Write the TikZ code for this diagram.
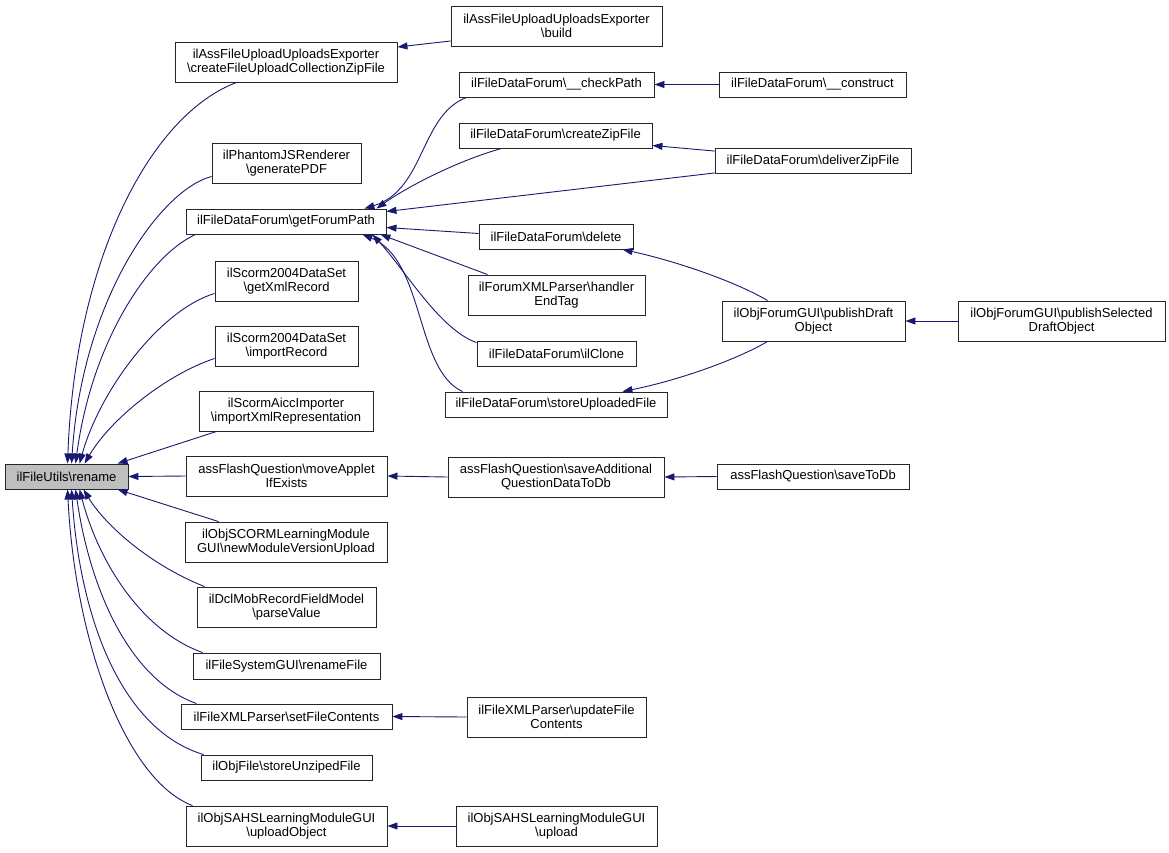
\documentclass[tikz,border=0pt]{standalone}
\usepackage{fontspec}
\setmainfont{Liberation Sans}
\usetikzlibrary{arrows.meta,calc}
\definecolor{navyc}{HTML}{191970}
\definecolor{curfill}{HTML}{BFBFBF}
\begin{document}
\begin{tikzpicture}[x=1pt,y=-1pt,
  fn/.style={draw=black!85, line width=0.9pt, fill=white, inner sep=0pt, align=center,
     font=\fontsize{13}{14.6}\selectfont},
  cur/.style={fn, fill=curfill},
  call/.style={draw=navyc, line width=0.9pt, -{Triangle[length=10pt,width=7pt]}}]
\useasboundingbox (0,0) rectangle (1169,852);
\fill[white] (0,0) rectangle (1169,852);
% nodes
\node[cur, minimum width=123pt, minimum height=25pt] (rename) at (66.5,476.5) {ilFileUtils\textbackslash rename};
\node[fn, minimum width=222pt, minimum height=40pt] (cfu) at (286,62) {ilAssFileUploadUploadsExporter\\\textbackslash createFileUploadCollectionZipFile};
\node[fn, minimum width=211pt, minimum height=40pt] (build) at (556.5,26) {ilAssFileUploadUploadsExporter\\\textbackslash build};
\node[fn, minimum width=149pt, minimum height=40pt] (phantom) at (286.5,163) {ilPhantomJSRenderer\\\textbackslash generatePDF};
\node[fn, minimum width=200pt, minimum height=25pt] (gfp) at (286,221.5) {ilFileDataForum\textbackslash getForumPath};
\node[fn, minimum width=143pt, minimum height=40pt] (xml) at (286.5,281) {ilScorm2004DataSet\\\textbackslash getXmlRecord};
\node[fn, minimum width=143pt, minimum height=40pt] (imp) at (286.5,346) {ilScorm2004DataSet\\\textbackslash importRecord};
\node[fn, minimum width=174pt, minimum height=40pt] (aicc) at (286,411) {ilScormAiccImporter\\\textbackslash importXmlRepresentation};
\node[fn, minimum width=201pt, minimum height=40pt] (move) at (286.5,476) {assFlashQuestion\textbackslash moveApplet\\IfExists};
\node[fn, minimum width=202pt, minimum height=40pt] (newmod) at (286,542) {ilObjSCORMLearningModule\\GUI\textbackslash newModuleVersionUpload};
\node[fn, minimum width=179pt, minimum height=40pt] (parse) at (286.5,607) {ilDclMobRecordFieldModel\\\textbackslash parseValue};
\node[fn, minimum width=187pt, minimum height=26pt] (renf) at (286.5,666) {ilFileSystemGUI\textbackslash renameFile};
\node[fn, minimum width=211pt, minimum height=25pt] (setf) at (286.5,716.5) {ilFileXMLParser\textbackslash setFileContents};
\node[fn, minimum width=171pt, minimum height=25pt] (unz) at (286.5,767.5) {ilObjFile\textbackslash storeUnzipedFile};
\node[fn, minimum width=201pt, minimum height=40pt] (upobj) at (286.5,826) {ilObjSAHSLearningModuleGUI\\\textbackslash uploadObject};
\node[fn, minimum width=195pt, minimum height=25pt] (checkp) at (556.5,84.5) {ilFileDataForum\textbackslash \_\_checkPath};
\node[fn, minimum width=187pt, minimum height=25pt] (constr) at (812.5,84.5) {ilFileDataForum\textbackslash \_\_construct};
\node[fn, minimum width=193pt, minimum height=25pt] (czip) at (555.5,135.5) {ilFileDataForum\textbackslash createZipFile};
\node[fn, minimum width=196pt, minimum height=25pt] (deliver) at (813,161) {ilFileDataForum\textbackslash deliverZipFile};
\node[fn, minimum width=154pt, minimum height=25pt] (delete) at (556,236.5) {ilFileDataForum\textbackslash delete};
\node[fn, minimum width=177pt, minimum height=40pt] (handler) at (556.5,295) {ilForumXMLParser\textbackslash handler\\EndTag};
\node[fn, minimum width=159pt, minimum height=25pt] (clone) at (556.5,353.5) {ilFileDataForum\textbackslash ilClone};
\node[fn, minimum width=222pt, minimum height=25pt] (store) at (556,404.5) {ilFileDataForum\textbackslash storeUploadedFile};
\node[fn, minimum width=216pt, minimum height=40pt] (saveadd) at (556,477) {assFlashQuestion\textbackslash saveAdditional\\QuestionDataToDb};
\node[fn, minimum width=179pt, minimum height=40pt] (updf) at (556.5,717) {ilFileXMLParser\textbackslash updateFile\\Contents};
\node[fn, minimum width=201pt, minimum height=40pt] (upload) at (556.5,826) {ilObjSAHSLearningModuleGUI\\\textbackslash upload};
\node[fn, minimum width=183pt, minimum height=40pt] (pubdraft) at (813.5,321) {ilObjForumGUI\textbackslash publishDraft\\Object};
\node[fn, minimum width=207pt, minimum height=40pt] (pubsel) at (1061.5,321) {ilObjForumGUI\textbackslash publishSelected\\DraftObject};
\node[fn, minimum width=192pt, minimum height=25pt] (savedb) at (813,476.5) {assFlashQuestion\textbackslash saveToDb};
% edges into rename
\draw[call] ($(cfu.south west)+(62,0)$) .. controls (150,115) and (75,260) .. ($(rename.north west)+(63,0)$);
\draw[call] ($(phantom.south west)+(0,-7)$) .. controls (160,190) and (82,300) .. ($(rename.north west)+(67,0)$);
\draw[call] ($(gfp.south west)+(10,0)$) .. controls (150,255) and (92,340) .. ($(rename.north west)+(71,0)$);
\draw[call] ($(xml.south west)+(0,-8)$) .. controls (160,310) and (100,390) .. ($(rename.north west)+(75,0)$);
\draw[call] ($(imp.south west)+(0,-8)$) .. controls (165,375) and (110,420) .. ($(rename.north west)+(80,0)$);
\draw[call] ($(aicc.south west)+(18,0)$) -- ($(rename.north west)+(113,0)$);
\draw[call] (move.west) -- (rename.east);
\draw[call] ($(newmod.north west)+(34,0)$) -- ($(rename.south west)+(113,0)$);
\draw[call] ($(parse.north west)+(8,0)$) .. controls (150,565) and (105,525) .. ($(rename.south west)+(79,0)$);
\draw[call] ($(renf.north west)+(10,0)$) .. controls (140,630) and (98,560) .. ($(rename.south west)+(75,0)$);
\draw[call] ($(setf.north west)+(16,0)$) .. controls (130,680) and (90,590) .. ($(rename.south west)+(71,0)$);
\draw[call] ($(unz.north west)+(3,0)$) .. controls (122,730) and (80,620) .. ($(rename.south west)+(67,0)$);
\draw[call] ($(upobj.north west)+(7,0)$) .. controls (125,780) and (75,640) .. ($(rename.south west)+(63,0)$);
% other edges
\draw[call] ($(build.west)+(0,15)$) -- ($(cfu.east)+(0,-15)$);
\draw[call] ($(checkp.south west)+(8,0)$) .. controls (420,115) and (425,190) .. ($(gfp.north east)+(-22,0)$);
\draw[call] ($(czip.south west)+(43,0)$) .. controls (460,160) and (410,185) .. ($(gfp.north east)+(-10,0)$);
\draw[call] ($(deliver.south west)+(0,-1)$) -- ($(gfp.east)+(0,-10)$);
\draw[call] ($(delete.west)+(0,-3)$) -- ($(gfp.east)+(0,6)$);
\draw[call] ($(handler.north west)+(20,0)$) -- ($(gfp.south east)+(-6,0)$);
\draw[call] ($(clone.north west)+(0,2)$) .. controls (440,330) and (405,270) .. ($(gfp.south east)+(-14,0)$);
\draw[call] ($(store.north west)+(18,0)$) .. controls (415,370) and (425,260) .. ($(gfp.south east)+(-24,0)$);
\draw[call] (constr.west) -- (checkp.east);
\draw[call] ($(deliver.north west)+(0,3)$) -- ($(czip.east)+(0,10)$);
\draw[call] ($(pubdraft.north west)+(46,0)$) .. controls (738,283) and (680,262) .. ($(delete.south east)+(-11,0)$);
\draw[call] ($(pubdraft.south west)+(46,0)$) .. controls (738,359) and (680,380) .. ($(store.north east)+(-45,0)$);
\draw[call] (pubsel.west) -- (pubdraft.east);
\draw[call] (saveadd.west) -- (move.east);
\draw[call] (savedb.west) -- (saveadd.east);
\draw[call] (updf.west) -- (setf.east);
\draw[call] (upload.west) -- (upobj.east);
\end{tikzpicture}
\end{document}
